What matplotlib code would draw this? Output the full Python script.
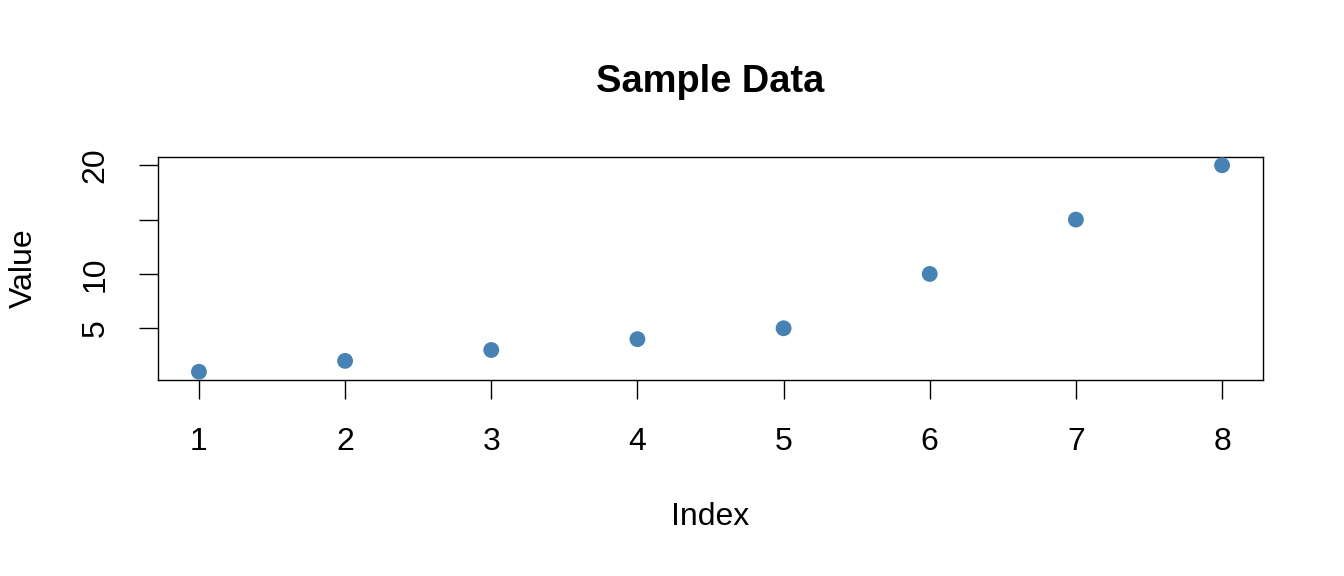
import matplotlib
matplotlib.use("Agg")
import matplotlib.pyplot as plt

# sample values, one per index
index = [1, 2, 3, 4, 5, 6, 7, 8]
values = [1, 2, 3, 4, 5, 10, 15, 20]
y_ticks = [5, 10, 15, 20]
y_tick_labels = ["5", "10", "", "20"]

plt.rcParams["font.family"] = ["Liberation Sans", "DejaVu Sans"]

fig = plt.figure(figsize=(13.44, 5.76), dpi=100)
ax = fig.add_axes([158 / 1344, 1 - 380 / 576, (1263 - 158) / 1344, (380 - 157) / 576])

ax.scatter(index, values, s=130, color="#4682B4", edgecolors="none", zorder=3)

# R style axis range: 4% padding on each side
xr = max(index) - min(index)
yr = max(values) - min(values)
ax.set_xlim(min(index) - 0.04 * xr, max(index) + 0.04 * xr)
ax.set_ylim(min(values) - 0.04 * yr, max(values) + 0.04 * yr)

ax.set_xticks(index)
ax.set_xticklabels([str(i) for i in index], fontsize=23)
ax.set_yticks(y_ticks)
ax.set_yticklabels(y_tick_labels, fontsize=23, rotation=90, va="center")

for sp in ax.spines.values():
    sp.set_linewidth(1.0)
ax.tick_params(length=14, width=1.0)
ax.tick_params(axis="x", pad=20)
ax.tick_params(axis="y", pad=20)

ax.set_title("Sample Data", fontsize=27.4, fontweight="bold", pad=47)
ax.set_xlabel("Index", fontsize=23, labelpad=32)
ax.set_ylabel("Value", fontsize=23, labelpad=30)

fig.savefig("out.png", dpi=100)
